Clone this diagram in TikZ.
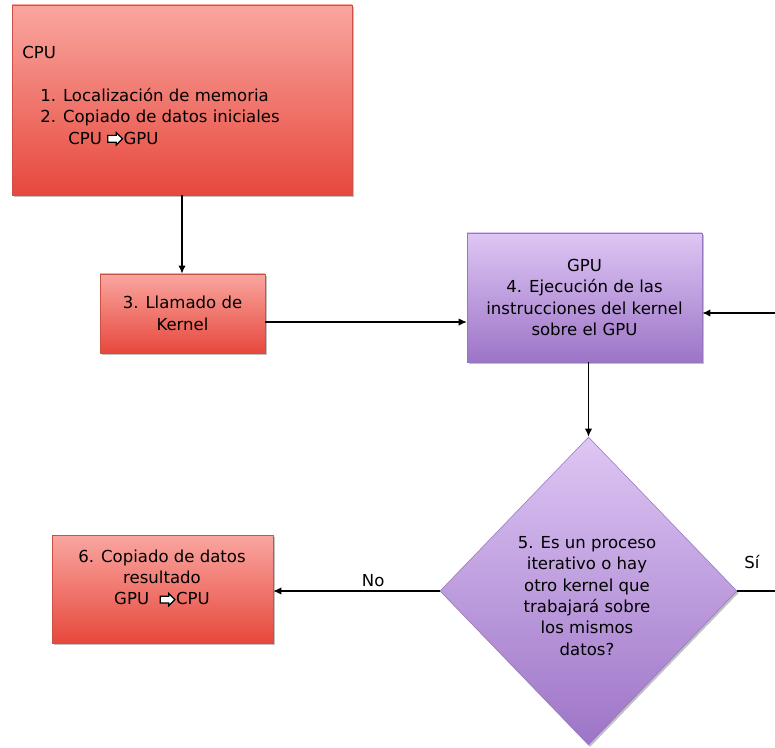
\documentclass[tikz,border=0pt]{standalone}
\usepackage{fontspec}
\setmainfont{DejaVu Sans}
\usetikzlibrary{arrows.meta,shapes.geometric,shapes.arrows,shadows}

\definecolor{cpuTop}{RGB}{249,166,160}
\definecolor{cpuBot}{RGB}{231,72,60}
\definecolor{cpuLine}{RGB}{205,80,70}
\definecolor{gpuTop}{RGB}{222,198,244}
\definecolor{gpuBot}{RGB}{157,116,199}
\definecolor{gpuLine}{RGB}{150,118,190}

\tikzset{
  boxshadow/.style={drop shadow={shadow xshift=1.2pt,shadow yshift=-1.5pt,opacity=0.35,fill=black!70}},
  cpubox/.style={rectangle,draw=cpuLine,line width=0.4pt,top color=cpuTop,bottom color=cpuBot,
                 boxshadow,inner sep=0pt,align=center},
  gpubox/.style={draw=gpuLine,line width=0.4pt,top color=gpuTop,bottom color=gpuBot,
                 boxshadow,inner sep=0pt,align=center},
  txt/.style={inner sep=0pt,align=center},
  arr/.style={-{Latex[length=6pt,width=5.5pt]},black},
  fatarrow/.style={single arrow,draw=black,fill=white,line width=0.9pt,
                   inner xsep=0pt,inner ysep=2.1pt,minimum height=11pt,
                   single arrow head extend=2pt,single arrow head indent=0pt,
                   shape border rotate=0}
}
% hollow block arrow used inline in the copy steps
\newcommand\copyarrow[1]{\tikz[baseline=-0.6ex]\node[fatarrow] (#1) {};}

\begin{document}
\begin{tikzpicture}[x=0.75pt,y=-0.75pt,font=\fontsize{12.4}{16}\selectfont]
\useasboundingbox (0,0) rectangle (775,748);

% CPU block with its listed steps
\node[cpubox,minimum width=255pt,minimum height=142.5pt] (cpu) at (182,100) {};
\node[txt,align=left,anchor=west] (cputxt) at (22,96)
  {CPU\\[16pt]\hspace*{13.5pt}1. Localización de memoria\\
   \hspace*{13.5pt}2. Copiado de datos iniciales\\
   \hspace*{34.5pt}CPU \copyarrow{toGPU}\kern0.5pt GPU};

% kernel call
\node[cpubox,minimum width=123.75pt,minimum height=59.25pt] (call) at (182.5,313.5)
  {3. Llamado de\\Kernel};

% GPU execution
\node[gpubox,rectangle,minimum width=176.25pt,minimum height=96.75pt] (gpu) at (584.5,297.5)
  {GPU\\4. Ejecución de las\\instrucciones del kernel\\sobre el GPU};

% decision
\node[gpubox,diamond,minimum width=222.75pt,minimum height=231pt] (dec) at (588.5,591) {};
\node[txt] (dectxt) at (587,596)
  {5. Es un proceso\\iterativo o hay\\otro kernel que\\trabajará sobre\\los mismos\\datos?};

% copy back of results
\node[cpubox,minimum width=165.75pt,minimum height=81pt] (back) at (162.5,589) {};
\node[txt] (backtxt) at (162,578) {6. Copiado de datos\\resultado\\GPU \ \copyarrow{toCPU}\kern0.5pt CPU};

% loose ends of the loop leaving the frame
\coordinate (loopout) at (775,591);
\coordinate (loopin) at (775,313);

% connectors
\draw[arr,line width=1.3pt] (cpu.south) -- (cpu.south |- call.north);
\draw[arr,line width=0.8pt] ([yshift=-6.4pt]call.east) -- ([yshift=-6.4pt]call.east -| gpu.west);
\draw[arr,line width=1.9pt] (loopin) -- (loopin -| gpu.east);
\draw[arr,line width=1.1pt] (dec.north |- gpu.south) -- (dec.north);
\draw[arr,line width=0.8pt] (dec.west) -- (dec.west -| back.east)
  node[pos=0.4,above=3pt,inner sep=0pt] (no) {No};
\draw[line width=1.5pt] (dec.east) -- (loopout);
\node[txt] (si) at (752,562) {Sí};
\end{tikzpicture}
\end{document}
